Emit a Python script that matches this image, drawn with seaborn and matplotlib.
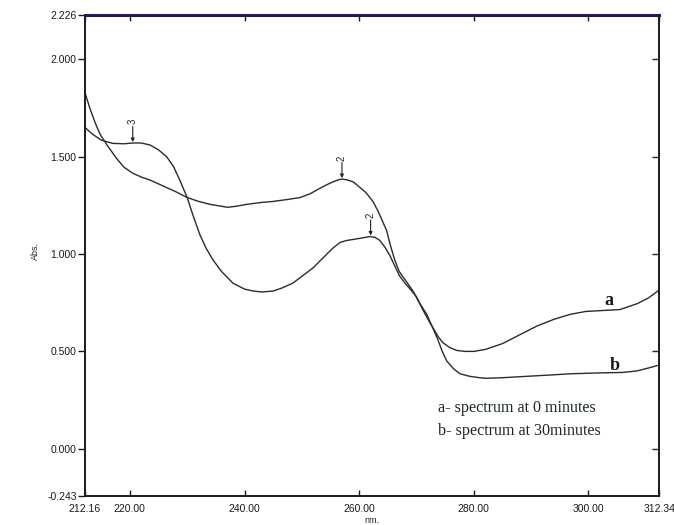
import matplotlib
matplotlib.use("Agg")
import matplotlib.pyplot as plt
import seaborn as sns
import pandas as pd

# ---- data ----
nm_a = [212.16, 213.5, 215, 217, 219, 220.5, 222, 223.5, 225, 226.4, 227.6, 228.7, 230, 231,
        232.2, 233.3, 234.5, 236, 238, 240, 241.5, 243, 245, 246.5, 248.4, 250, 252, 253.7,
        255.4, 256.7, 257.9, 259, 260, 261, 261.9, 262.8, 263.6, 264.5, 265.4, 266.2, 267,
        268, 268.9, 270, 271, 272, 272.9, 273.8, 274.6, 275.8, 277, 278.5, 280, 282, 285,
        288, 291, 294, 296.8, 299.5, 302.5, 305.5, 308.5, 310.5, 312.34]
abs_a = [1.65, 1.615, 1.585, 1.568, 1.566, 1.57, 1.57, 1.56, 1.535, 1.50, 1.45, 1.38, 1.29, 1.20,
         1.10, 1.03, 0.97, 0.91, 0.85, 0.82, 0.81, 0.805, 0.81, 0.825, 0.85, 0.885, 0.93, 0.98,
         1.03, 1.06, 1.07, 1.075, 1.08, 1.085, 1.09, 1.085, 1.07, 1.035, 0.99, 0.94, 0.89,
         0.85, 0.82, 0.78, 0.72, 0.665, 0.62, 0.575, 0.545, 0.52, 0.505, 0.50, 0.50, 0.51, 0.54,
         0.585, 0.63, 0.665, 0.69, 0.705, 0.71, 0.715, 0.745, 0.775, 0.815]

nm_b = [212.16, 213, 214, 214.8, 216, 217.7, 219, 220.5, 222, 223.5, 225, 226.5, 228, 230,
        232, 234, 236, 237, 238.5, 240.4, 243, 245, 247.5, 249.7, 251.5, 253, 254.3, 255.4,
        256.3, 257, 258, 259, 260, 261.2, 262.4, 263.3, 264.2, 264.8, 265.4, 266.2, 267,
        268.2, 269.4, 270.5, 271.8, 272.7, 273.6, 274.5, 275.3, 276.5, 277.6, 279.3, 281,
        282, 285, 288, 291, 294, 296.8, 300, 302.5, 306, 308.5, 310.5, 312.34]
abs_b = [1.83, 1.75, 1.67, 1.615, 1.56, 1.49, 1.445, 1.415, 1.395, 1.38, 1.36, 1.34, 1.32, 1.29,
         1.27, 1.255, 1.245, 1.24, 1.245, 1.255, 1.265, 1.27, 1.28, 1.29, 1.31, 1.335, 1.355, 1.37,
         1.38, 1.385, 1.38, 1.37, 1.345, 1.315, 1.27, 1.22, 1.16, 1.12, 1.05, 0.97, 0.91,
         0.86, 0.81, 0.75, 0.69, 0.63, 0.57, 0.50, 0.45, 0.41, 0.385, 0.372, 0.365,
         0.362, 0.365, 0.37, 0.375, 0.38, 0.385, 0.388, 0.39, 0.392, 0.40, 0.415, 0.43]

x_ticks = [212.16, 220.00, 240.00, 260.00, 280.00, 300.00, 312.34]
y_ticks = [-0.243, 0.000, 0.500, 1.000, 1.500, 2.000, 2.226]
x_labels = ["212.16", "220.00", "240.00", "260.00", "280.00", "300.00", "312.34"]
y_labels = ["-0.243", "0.000", "0.500", "1.000", "1.500", "2.000", "2.226"]

peak_nm = [220.5, 257.0, 262.0]
peak_abs = [1.575, 1.39, 1.095]
peak_labels = ["3", "2", "2"]

curve_labels = ["a", "b"]
curve_label_nm = [303.5, 304.5]
curve_label_abs = [0.72, 0.385]

legend_lines = ["a- spectrum at 0 minutes", "b- spectrum at 30minutes"]

# ---- figure ----
sns.set_style("ticks")
plt.rcParams["font.family"] = ["Liberation Sans", "DejaVu Sans"]

fig = plt.figure(figsize=(6.74, 5.25), dpi=100)
ax = fig.add_axes([0.126, 0.055, 0.852, 0.916])

df_a = pd.DataFrame({"nm": nm_a, "Abs": abs_a})
df_b = pd.DataFrame({"nm": nm_b, "Abs": abs_b})
sns.lineplot(data=df_a, x="nm", y="Abs", ax=ax, color="#2b2b2b", linewidth=1.0, sort=False)
sns.lineplot(data=df_b, x="nm", y="Abs", ax=ax, color="#2b2b2b", linewidth=1.0, sort=False)

ax.set_xlim(x_ticks[0], x_ticks[-1])
ax.set_ylim(y_ticks[0], y_ticks[-1])
ax.set_xticks(x_ticks)
ax.set_xticklabels(x_labels)
ax.set_yticks(y_ticks)
ax.set_yticklabels(y_labels)

ax.tick_params(axis="x", direction="in", length=4, width=1, top=True, labelsize=7.5,
               colors="#1a1a1a", pad=6)
ax.tick_params(axis="y", direction="out", length=5, width=1, labelsize=7.5,
               colors="#1a1a1a", pad=1)
ax2 = ax.secondary_yaxis("right")
ax2.set_yticks(y_ticks[1:-1])
ax2.tick_params(axis="y", direction="in", length=5, width=1, labelright=False)
ax2.spines["right"].set_visible(False)

for s in ["left", "right", "bottom"]:
    ax.spines[s].set_visible(True)
    ax.spines[s].set_color("#1a1a1a")
    ax.spines[s].set_linewidth(1.4)
ax.spines["top"].set_visible(True)
ax.spines["top"].set_color("#1c1c5a")
ax.spines["top"].set_linewidth(2.2)

ax.set_xlabel("nm.", fontsize=6.5, labelpad=1, color="#222222")
ax.set_ylabel("Abs.", fontsize=6.5, color="#222222")
ax.yaxis.set_label_coords(-0.078, 0.51)

for xv, yv, lab in zip(peak_nm, peak_abs, peak_labels):
    ax.annotate("", xy=(xv, yv), xytext=(xv, yv + 0.08),
                arrowprops=dict(arrowstyle="-|>", color="#222222", lw=0.8,
                                mutation_scale=5, shrinkA=0, shrinkB=0))
    ax.text(xv, yv + 0.09, lab, rotation=90, ha="center", va="bottom",
            fontsize=7, color="#222222")

for xv, yv, lab in zip(curve_label_nm, curve_label_abs, curve_labels):
    ax.text(xv, yv, lab, fontsize=13, fontweight="bold", ha="center", va="bottom",
            family=["Liberation Serif", "DejaVu Serif"], color="#1a1a1a")

for i, line in enumerate(legend_lines):
    ax.text(0.614, 0.183 - i * 0.048, line, transform=ax.transAxes,
            fontsize=11.6, family=["Liberation Serif", "DejaVu Serif"], color="#1a2a1a",
            ha="left", va="center")

fig.savefig("out.png", dpi=100)
